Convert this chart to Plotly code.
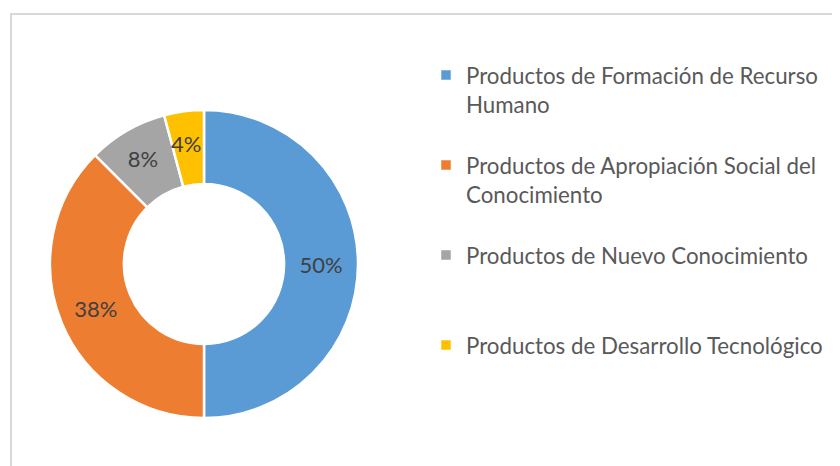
import plotly.graph_objects as go

labels = [
    "Productos de Formación de Recurso<br>Humano<br> ",
    "Productos de Apropiación Social del<br>Conocimiento<br> ",
    "Productos de Nuevo Conocimiento<br> <br> ",
    "Productos de Desarrollo Tecnológico<br> <br> ",
]
values = [12, 9, 2, 1]
colors = ["#5B9BD5", "#ED7D31", "#A5A5A5", "#FFC000"]
label_templates = ["%{percent:.0%}", "%{percent:.0%}", "%{percent:.0%}", " <br>%{percent:.0%}"]

FONT = "Lato, 'Open Sans', sans-serif"

# the page body adds an 8px offset; positions below are in figure pixels
W, H = 840, 466
cx, cy, r = 196, 256, 154

fig = go.Figure()
fig.add_trace(go.Pie(
    labels=labels,
    values=values,
    hole=0.52,
    sort=False,
    direction="clockwise",
    rotation=0,
    marker=dict(colors=colors, line=dict(color="white", width=2.5)),
    texttemplate=label_templates,
    textposition="inside",
    insidetextorientation="horizontal",
    textfont=dict(family=FONT, size=22, color="#404040"),
    domain=dict(x=[(cx - r) / W, (cx + r) / W],
                y=[(H - cy - r) / H, (H - cy + r) / H]),
    showlegend=True,
))

fig.update_layout(
    width=W,
    height=H,
    margin=dict(l=0, r=0, t=0, b=0),
    paper_bgcolor="white",
    plot_bgcolor="white",
    uniformtext=dict(mode="show", minsize=22),
    legend=dict(
        x=418 / W,
        xanchor="left",
        y=1 - 46 / H,
        yanchor="top",
        valign="top",
        font=dict(family=FONT, size=22.3, color="#595959"),
        bgcolor="rgba(0,0,0,0)",
    ),
    shapes=[
        dict(type="rect", xref="paper", yref="paper",
             x0=3 / W, x1=1.05, y0=-0.05, y1=1 - 6 / H,
             line=dict(color="#D9D9D9", width=2), fillcolor="rgba(0,0,0,0)",
             layer="below"),
    ],
)

fig.write_html("out.html")
